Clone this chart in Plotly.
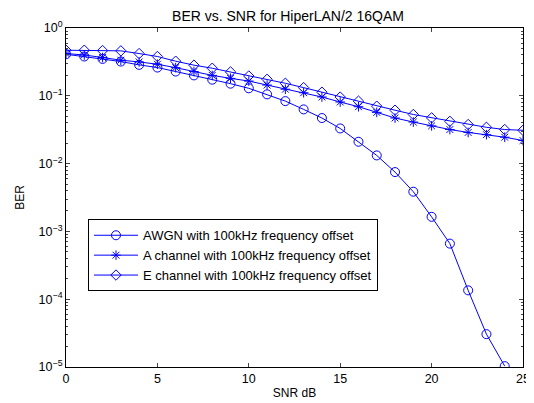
import plotly.graph_objects as go

snr_awgn = list(range(0, 25))
ber_awgn = [0.41, 0.38, 0.35, 0.32, 0.286, 0.261, 0.228, 0.20, 0.173, 0.151,
            0.129, 0.105, 0.0835, 0.063, 0.047, 0.033, 0.021, 0.0132, 0.0075,
            0.00385, 0.00164, 6.6e-4, 1.35e-4, 3.05e-5, 1.03e-5]

snr_ch = list(range(0, 26))
ber_a = [0.42, 0.40, 0.367, 0.335, 0.316, 0.292, 0.26, 0.228, 0.20, 0.181,
         0.165, 0.144, 0.125, 0.111, 0.096, 0.081, 0.069, 0.057, 0.047, 0.041,
         0.036, 0.0318, 0.0288, 0.0267, 0.0245, 0.0219]
ber_e = [0.47, 0.47, 0.465, 0.46, 0.42, 0.38, 0.324, 0.283, 0.255, 0.225,
         0.196, 0.175, 0.153, 0.132, 0.113, 0.0957, 0.0834, 0.0703, 0.0613,
         0.053, 0.0473, 0.042, 0.0377, 0.0343, 0.0318, 0.031]

names = ["AWGN with 100kHz frequency offset",
         "A channel with 100kHz frequency offset",
         "E channel with 100kHz frequency offset"]

ytick_vals = [1, 0.1, 0.01, 0.001, 1e-4, 1e-5]
ytick_text = ["10<sup>0</sup>", "10<sup>−1</sup>", "10<sup>−2</sup>",
              "10<sup>−3</sup>", "10<sup>−4</sup>", "10<sup>−5</sup>"]
xtick_vals = [0, 5, 10, 15, 20, 25]

blue = "#0000FF"
fig = go.Figure()
fig.add_trace(go.Scatter(x=snr_awgn, y=ber_awgn, name=names[0], mode="lines+markers",
                         line=dict(color=blue, width=1),
                         marker=dict(symbol="circle-open", size=9, color=blue, line=dict(width=1))))
fig.add_trace(go.Scatter(x=snr_ch, y=ber_a, name=names[1], mode="lines+markers",
                         line=dict(color=blue, width=1),
                         marker=dict(symbol="asterisk-open", size=8, color=blue, line=dict(width=1))))
fig.add_trace(go.Scatter(x=snr_ch, y=ber_e, name=names[2], mode="lines+markers",
                         line=dict(color=blue, width=1),
                         marker=dict(symbol="diamond-open", size=8, color=blue, line=dict(width=1))))

# page body has an 8px default margin, so the figure is offset by (8, 8)
W, H = 526, 395
font = "Liberation Sans, Arial, sans-serif"
fig.update_layout(
    width=W, height=H,
    margin=dict(l=58, r=11, t=20, b=36, autoexpand=False),
    paper_bgcolor="white", plot_bgcolor="white",
    font=dict(family=font, size=12.5, color="black"),
    title=dict(text="BER vs. SNR for HiperLAN/2 16QAM", x=280 / W, xanchor="center",
               y=1 - 8 / H, yanchor="middle", font=dict(size=14), automargin=False),
    showlegend=True,
    legend=dict(x=(88 - 8 - 58) / 457, y=(358.7 - 211) / 339, xanchor="left", yanchor="top",
                bordercolor="black", borderwidth=1, bgcolor="white",
                font=dict(size=13), tracegroupgap=0, itemwidth=44),
)
fig.update_xaxes(range=[0, 25], tickvals=xtick_vals, ticks="inside", ticklen=4,
                 automargin=False,
                 showline=True, linecolor="black", linewidth=1, mirror="ticks",
                 showgrid=False, zeroline=False,
                 title=dict(text="SNR dB", standoff=3, font=dict(size=12)))
fig.update_yaxes(type="log", range=[-5, 0], tickvals=ytick_vals, ticktext=ytick_text,
                 ticks="inside", ticklen=4, automargin=False,
                 minor=dict(ticks="inside", ticklen=2, dtick="D1", showgrid=False),
                 showline=True, linecolor="black", linewidth=1, mirror="ticks",
                 showgrid=False, zeroline=False,
                 title=dict(text="BER", standoff=11, font=dict(size=12)))

fig.write_html("out.html")
